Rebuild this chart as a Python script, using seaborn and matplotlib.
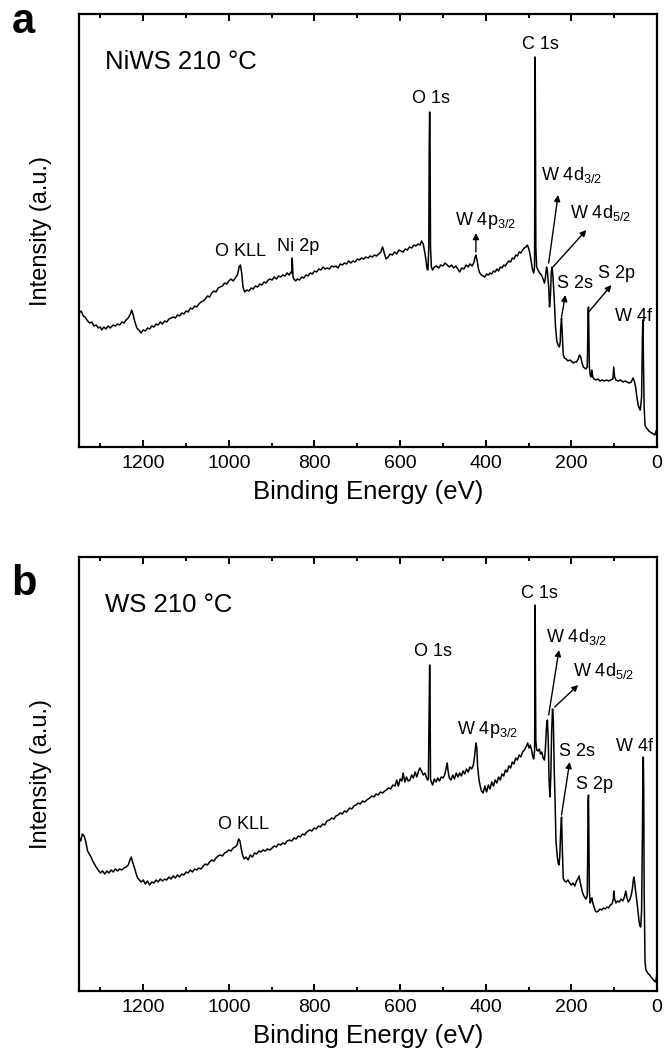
import matplotlib
matplotlib.use("Agg")
import matplotlib.pyplot as plt
import seaborn as sns
import numpy as np

sns.set_theme(style="ticks")
plt.rcParams['font.family'] = ['Liberation Sans', 'DejaVu Sans']
plt.rcParams['mathtext.fontset'] = 'custom'
plt.rcParams['mathtext.rm'] = 'Liberation Sans'
plt.rcParams['mathtext.it'] = 'Liberation Sans:italic'
plt.rcParams['mathtext.default'] = 'regular'
plt.rcParams['text.color'] = 'black'
plt.rcParams['axes.labelcolor'] = 'black'
plt.rcParams['xtick.color'] = 'black'
plt.rcParams['ytick.color'] = 'black'
plt.rcParams['axes.edgecolor'] = 'black'

# ---------------- data (binding energy in eV, intensity in arbitrary units) ----------------
energy_a = [1350, 1345, 1340, 1336, 1330, 1325, 1320, 1315, 1310, 1305, 1300, 1297, 1292, 1287, 1282, 1277,
            1270, 1265, 1260, 1255, 1250, 1245, 1240, 1235, 1230, 1227, 1224, 1220, 1215, 1210, 1205, 1200,
            1195, 1190, 1185, 1180, 1175, 1170, 1165, 1160, 1155, 1150, 1145, 1140, 1130, 1125, 1120, 1115,
            1110, 1105, 1100, 1095, 1090, 1085, 1080, 1075, 1070, 1065, 1060, 1055, 1050, 1045, 1040, 1035,
            1030, 1025, 1020, 1015, 1010, 1005, 1000, 995, 990, 985, 980, 976, 973, 970, 967, 963,
            958, 953, 948, 943, 938, 933, 928, 923, 918, 913, 908, 904, 899, 894, 889, 884,
            879, 874, 869, 864, 859, 855, 853, 852, 850, 848, 844, 840, 835, 830, 825, 820,
            815, 810, 805, 800, 795, 790, 785, 780, 775, 770, 765, 760, 755, 750, 745, 740,
            735, 730, 725, 720, 715, 710, 705, 700, 695, 690, 685, 680, 675, 670, 665, 660,
            655, 650, 645, 641, 637, 633, 628, 623, 618, 613, 608, 603, 598, 593, 588, 583,
            578, 573, 568, 563, 558, 553, 550, 546, 543, 540, 537, 535, 533, 532, 531, 530,
            529, 527, 524, 520, 515, 510, 505, 500, 495, 490, 485, 480, 475, 470, 465, 461,
            456, 451, 446, 441, 437, 432, 428, 425, 423, 420, 417, 414, 410, 406, 402, 398,
            394, 390, 386, 382, 378, 374, 370, 366, 362, 358, 354, 350, 346, 342, 338, 334,
            330, 326, 322, 318, 314, 310, 306, 303, 300, 297, 294, 291, 288, 286, 285, 284.5,
            284, 283, 281, 278, 274, 270, 266, 263, 261, 258, 256, 253, 251, 249, 247, 245,
            243, 240, 237, 234, 231, 228, 226, 225, 223, 221, 219, 216, 212, 208, 204, 200,
            196, 192, 188, 184, 181, 178, 175, 172, 169, 166, 163, 162, 161, 160, 159, 158,
            156, 154, 152, 150, 147, 143, 138, 133, 128, 123, 118, 113, 108, 103, 101, 99,
            96, 90, 85, 80, 75, 70, 65, 60, 56, 53, 50, 47, 44, 41, 39, 36,
            34, 33, 32, 30, 28, 25, 22, 19, 16, 12, 8, 5, 2, 0]
intensity_a = [134, 136, 131, 130, 126, 124, 125, 121, 122, 119, 120, 117, 120, 118, 121, 119,
               122, 121, 123, 122, 125, 124, 127, 129, 133, 137, 133, 126, 119, 117, 114, 117,
               116, 119, 118, 121, 120, 123, 122, 125, 123, 126, 125, 128, 130, 129, 132, 131,
               134, 133, 136, 135, 139, 138, 141, 140, 143, 145, 146, 148, 151, 150, 154, 156,
               155, 159, 160, 161, 164, 163, 166, 168, 166, 169, 172, 180, 182, 174, 160, 155,
               157, 156, 159, 158, 161, 160, 163, 162, 165, 164, 167, 168, 167, 170, 168, 171,
               170, 172, 171, 174, 172, 175, 174, 189, 170, 168, 166, 168, 167, 170, 169, 172,
               171, 174, 173, 176, 175, 178, 177, 180, 178, 179, 178, 181, 180, 181, 179, 183,
               182, 184, 183, 186, 184, 186, 185, 188, 187, 189, 188, 190, 189, 191, 190, 192,
               191, 193, 195, 200, 194, 188, 190, 193, 192, 195, 193, 197, 196, 195, 198, 197,
               200, 199, 202, 201, 203, 202, 206, 203, 196, 188, 178, 177, 200, 300, 335, 300,
               200, 180, 177, 180, 181, 179, 182, 181, 184, 182, 180, 182, 179, 181, 178, 175,
               179, 178, 182, 180, 183, 181, 184, 190, 192, 186, 178, 174, 172, 171, 170, 173,
               172, 174, 173, 176, 175, 178, 176, 180, 179, 182, 181, 184, 186, 185, 189, 188,
               192, 191, 195, 194, 197, 199, 200, 202, 199, 194, 186, 178, 174, 180, 300, 390,
               330, 200, 180, 177, 174, 172, 168, 164, 168, 180, 176, 160, 140, 150, 175, 180,
               170, 148, 120, 106, 102, 100, 105, 118, 129, 110, 92, 89, 88, 86, 87, 86,
               84, 85, 85, 88, 92, 90, 84, 80, 79, 78, 80, 100, 135, 140, 110, 80,
               72, 70, 77, 70, 68, 67, 68, 66, 67, 66, 67, 66, 67, 68, 80, 70,
               67, 66, 67, 65, 66, 65, 64, 65, 69, 66, 60, 50, 42, 38, 37, 50,
               110, 127, 100, 40, 22, 19, 18, 16, 15, 14, 13, 12, 16, 18]

energy_b = [1350, 1346, 1342, 1338, 1334, 1330, 1326, 1322, 1318, 1314, 1310, 1305, 1300, 1295, 1290, 1285,
            1280, 1275, 1270, 1265, 1260, 1255, 1250, 1245, 1240, 1235, 1231, 1228, 1225, 1221, 1217, 1213,
            1209, 1205, 1200, 1195, 1190, 1185, 1180, 1175, 1170, 1165, 1160, 1155, 1150, 1145, 1140, 1135,
            1130, 1125, 1120, 1115, 1110, 1105, 1100, 1095, 1090, 1085, 1080, 1075, 1070, 1065, 1060, 1055,
            1050, 1045, 1040, 1035, 1030, 1025, 1020, 1015, 1010, 1005, 1000, 995, 990, 985, 981, 977,
            974, 971, 968, 964, 960, 955, 950, 945, 940, 935, 930, 925, 920, 915, 910, 904,
            899, 894, 889, 884, 879, 874, 869, 864, 858, 853, 848, 843, 838, 833, 828, 823,
            818, 811, 806, 801, 796, 791, 786, 781, 776, 771, 765, 760, 755, 750, 745, 740,
            735, 730, 725, 718, 713, 708, 703, 698, 693, 688, 683, 678, 671, 666, 661, 656,
            651, 646, 641, 636, 632, 627, 622, 617, 612, 608, 604, 600, 596, 593, 589, 585,
            581, 577, 573, 569, 565, 561, 557, 554, 550, 546, 542, 539, 536, 534, 532, 531,
            530, 529, 527, 524, 520, 516, 512, 508, 504, 500, 496, 493, 490, 488, 485, 481,
            477, 473, 469, 465, 461, 457, 453, 449, 445, 441, 437, 433, 429, 426, 423, 421,
            419, 416, 413, 410, 406, 402, 398, 394, 390, 386, 382, 378, 374, 370, 366, 362,
            358, 354, 350, 346, 342, 338, 334, 330, 326, 322, 318, 314, 310, 306, 302, 299,
            296, 293, 290, 288, 286, 285, 284.5, 284, 283, 281, 278, 275, 272, 269, 266, 263,
            261, 258, 256, 254, 252, 250, 248, 246, 244, 242, 240, 238, 236, 233, 231, 229,
            227, 225, 223, 221, 219, 216, 212, 208, 204, 200, 196, 192, 188, 185, 182, 179,
            175, 172, 169, 166, 163, 162, 161, 160, 159, 158, 156, 154, 152, 150, 147, 144,
            141, 137, 133, 129, 125, 121, 117, 113, 109, 105, 102, 101, 99, 96, 92, 88,
            84, 80, 76, 73, 70, 67, 64, 60, 57, 55, 54, 52, 50, 47, 44, 42,
            40, 38, 36, 34, 33, 32, 31, 30, 28, 26, 23, 20, 17, 14, 10, 6,
            3, 1, 0]
intensity_b = [154, 150, 157, 155, 149, 140, 137, 134, 130, 127, 124, 121, 118, 120, 117, 120,
               118, 121, 119, 122, 120, 122, 121, 123, 124, 126, 131, 134, 129, 124, 118, 113,
               111, 109, 111, 107, 110, 106, 109, 108, 111, 109, 112, 110, 112, 111, 114, 112,
               115, 113, 116, 114, 117, 116, 119, 118, 121, 119, 122, 121, 123, 122, 125, 127,
               126, 129, 131, 130, 133, 135, 136, 135, 138, 139, 141, 140, 143, 144, 146, 152,
               150, 142, 136, 132, 134, 131, 136, 134, 138, 137, 140, 139, 141, 140, 142, 141,
               143, 145, 144, 147, 146, 148, 147, 150, 151, 150, 153, 152, 155, 154, 157, 156,
               159, 161, 160, 163, 162, 165, 164, 167, 166, 170, 171, 173, 172, 175, 176, 178,
               177, 180, 179, 183, 182, 185, 186, 188, 187, 190, 189, 191, 193, 195, 194, 197,
               196, 199, 198, 200, 201, 203, 202, 206, 205, 211, 205, 212, 210, 218, 209, 214,
               210, 211, 216, 213, 219, 214, 220, 223, 220, 216, 218, 214, 211, 212, 290, 326,
               290, 212, 209, 206, 212, 209, 213, 210, 214, 213, 216, 222, 228, 220, 213, 211,
               216, 212, 218, 214, 218, 215, 220, 217, 222, 219, 224, 222, 226, 235, 248, 244,
               225, 212, 205, 200, 198, 205, 199, 206, 202, 209, 205, 211, 208, 214, 211, 217,
               215, 221, 219, 225, 223, 229, 227, 233, 231, 236, 234, 239, 241, 244, 248, 243,
               246, 241, 234, 232, 240, 300, 386, 320, 250, 241, 240, 242, 237, 239, 233, 231,
               240, 265, 271, 250, 210, 194, 215, 260, 282, 270, 220, 190, 150, 135, 128, 126,
               135, 160, 174, 140, 113, 110, 109, 111, 108, 106, 108, 105, 110, 112, 115, 108,
               100, 96, 94, 92, 95, 130, 190, 196, 150, 100, 88, 92, 93, 88, 84, 80,
               79, 80, 82, 81, 83, 82, 84, 83, 86, 87, 92, 100, 92, 88, 90, 89,
               92, 90, 94, 100, 93, 89, 91, 96, 104, 112, 114, 108, 100, 90, 78, 70,
               65, 64, 80, 160, 220, 234, 200, 100, 30, 21, 19, 17, 16, 14, 12, 10,
               9, 14, 17]

tick_values = [0, 200, 400, 600, 800, 1000, 1200]
tick_labels = ["0", "200", "400", "600", "800", "1000", "1200"]
sample_names = ["NiWS 210 \u00b0C", "WS 210 \u00b0C"]
panel_letters = ["a", "b"]

# peak labels: (text, x, y, ha)
labels_a = [("C 1s", 272, 394, "center"), ("O 1s", 527, 340, "center"),
            ("W 4d$_{3/2}$", 270, 262, "left"), ("W 4d$_{5/2}$", 204, 224, "left"),
            ("W 4p$_{3/2}$", 472, 216, "left"), ("Ni 2p", 839, 192, "center"),
            ("O KLL", 972, 187, "center"), ("S 2s", 234, 155, "left"),
            ("S 2p", 138, 165, "left"), ("W 4f", 99, 122, "left")]
arrows_a = [((253, 184), (231, 252)), ((243, 180), (165, 217)), ((223, 130), (214, 152)),
            ((159.5, 135), (106.5, 162)), ((423, 195), (423, 214))]

labels_b = [("C 1s", 274, 389, "center"), ("O 1s", 524, 331, "center"),
            ("W 4d$_{3/2}$", 260, 344, "left"), ("W 4d$_{5/2}$", 197, 310, "left"),
            ("W 4p$_{3/2}$", 468, 251, "left"), ("O KLL", 1026, 158, "left"),
            ("S 2s", 229, 231, "left"), ("S 2p", 190, 198, "left"), ("W 4f", 96, 236, "left")]
arrows_b = [((253, 276), (229, 341)), ((239, 284), (184, 306)), ((223, 176), (204, 229))]

# ---------------- figure ----------------
W, H = 665, 1059
fig = plt.figure(figsize=(W / 100, H / 100), dpi=100)
ax_a = fig.add_axes([79 / W, 1 - 447 / H, 578 / W, 433 / H])
ax_b = fig.add_axes([79 / W, 1 - 991 / H, 578 / W, 434 / H])

panels = [(ax_a, energy_a, intensity_a, labels_a, arrows_a, 433),
          (ax_b, energy_b, intensity_b, labels_b, arrows_b, 434)]

for i, (ax, e, inten, labs, arrs, top) in enumerate(panels):
    sns.lineplot(x=e, y=inten, ax=ax, sort=False, estimator=None, color="black", linewidth=1.1)
    ax.set_xlim(1350, 0)
    ax.set_ylim(0, top)
    ax.set_xticks(tick_values)
    ax.set_xticklabels(tick_labels)
    ax.set_xticks(np.arange(100, 1350, 200), minor=True)
    ax.set_yticks([])
    ax.tick_params(axis="x", which="both", direction="in", top=True, bottom=True,
                   labelsize=14, pad=6, width=1.4, colors="black")
    ax.tick_params(axis="x", which="major", length=5)
    ax.tick_params(axis="x", which="minor", length=3)
    for sp in ax.spines.values():
        sp.set_linewidth(1.6)
        sp.set_color("black")
    ax.set_xlabel("Binding Energy (eV)", fontsize=18.5, color="black")
    ax.set_ylabel("Intensity (a.u.)", fontsize=17, color="black")
    ax.xaxis.set_label_coords(0.5, -0.077)
    ax.yaxis.set_label_coords(-0.047, 0.5)
    ax.text(0.045, 0.889, sample_names[i], transform=ax.transAxes, fontsize=18.5,
            ha="left", va="center", color="black")
    for txt, x, y, ha in labs:
        ax.text(x, y, txt, fontsize=13, ha=ha, va="bottom", color="black")
    for (x0, y0), (x1, y1) in arrs:
        ax.annotate("", xy=(x1, y1), xytext=(x0, y0),
                    arrowprops=dict(arrowstyle="-|>", color="black", lw=1.0,
                                    mutation_scale=9, shrinkA=0, shrinkB=0))

fig.text(23 / W, 1 - 22 / H, panel_letters[0], fontsize=30, fontweight="bold",
         ha="center", va="center", color="black")
fig.text(24 / W, 1 - 584 / H, panel_letters[1], fontsize=30, fontweight="bold",
         ha="center", va="center", color="black")

fig.savefig("out.png", dpi=100)
